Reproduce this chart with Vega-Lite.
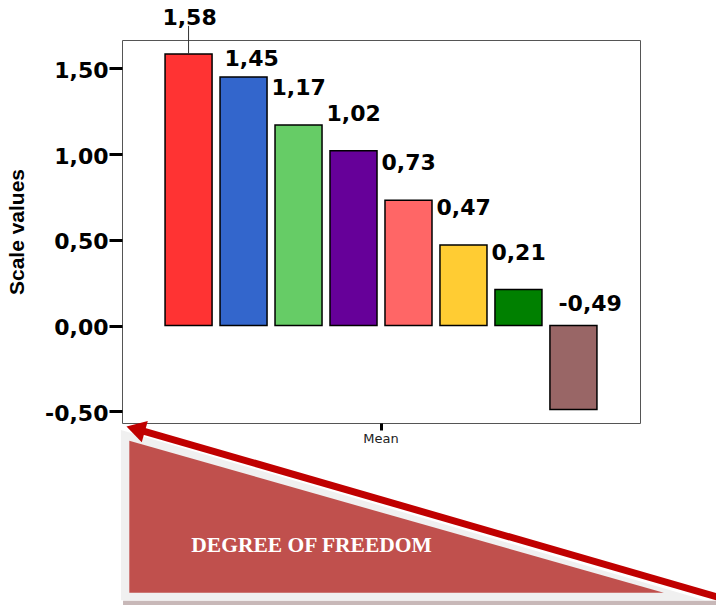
{
  "$schema": "https://vega.github.io/schema/vega-lite/v6.json",
  "width": 518,
  "height": 383,
  "autosize": {"type": "none"},
  "padding": {"left": 122, "top": 40, "right": 76, "bottom": 182},
  "background": "white",
  "config": {
    "view": {"stroke": "#555555", "strokeWidth": 1},
    "locale": {"number": {"decimal": ",", "thousands": ".", "grouping": [3], "currency": ["", ""], "minus": "-"}}
  },
  "datasets": {
    "bars": [
      {"stat": "Mean", "item": 1, "value": 1.584},
      {"stat": "Mean", "item": 2, "value": 1.45},
      {"stat": "Mean", "item": 3, "value": 1.17},
      {"stat": "Mean", "item": 4, "value": 1.02},
      {"stat": "Mean", "item": 5, "value": 0.73},
      {"stat": "Mean", "item": 6, "value": 0.47},
      {"stat": "Mean", "item": 7, "value": 0.21},
      {"stat": "Mean", "item": 8, "value": -0.49}
    ],
    "outer": [
      {"px": -0.002, "top": -0.609, "base": -1.601},
      {"px": 1.125, "top": -1.601, "base": -1.601}
    ],
    "inner": [
      {"px": 0.0141, "top": -0.672, "base": -1.558},
      {"px": 1.046, "top": -1.558, "base": -1.558}
    ],
    "one": [{"label": "DEGREE OF FREEDOM"}]
  },
  "resolve": {"scale": {"x": "independent"}, "axis": {"x": "independent"}},
  "layer": [
    {
      "data": {"name": "bars"},
      "encoding": {
        "x": {"field": "stat", "type": "nominal", "scale": {"paddingInner": 0, "paddingOuter": 0},
              "axis": {"title": null, "labelFont": "DejaVu Sans", "labelFontSize": 13, "labelColor": "#222222", "labelAngle": 0,
                       "tickSize": 7, "tickWidth": 3, "tickColor": "black", "domain": false, "labelPadding": 2}},
        "xOffset": {"field": "item", "type": "nominal", "scale": {"paddingInner": 0.145, "paddingOuter": 0.783}}
      },
      "layer": [
        {
          "mark": {"type": "bar", "stroke": "black", "strokeWidth": 1.5},
          "encoding": {
            "y": {"field": "value", "type": "quantitative",
                  "scale": {"domain": [-0.568, 1.665], "nice": false, "zero": false},
                  "axis": {"title": "Scale values", "values": [-0.5, 0, 0.5, 1, 1.5], "format": ".2f",
                           "labelFont": "DejaVu Sans", "labelFontWeight": "bold", "labelFontSize": 22, "labelColor": "black",
                           "tickSize": 13, "tickWidth": 3, "tickColor": "black", "domain": false, "grid": false,
                           "labelPadding": 1, "labelOffset": 2,
                           "titleFont": "Liberation Sans", "titleFontWeight": "bold", "titleFontSize": 21,
                           "titleColor": "black", "titlePadding": 17}},
            "y2": {"datum": 0},
            "color": {"field": "item", "type": "nominal", "legend": null,
                      "scale": {"range": ["#FF3333", "#3366CC", "#66CC66", "#660099", "#FF6666", "#FFCC33", "#008000", "#996666"]}}
          }
        },
        {
          "mark": {"type": "rule", "color": "#333333", "strokeWidth": 1, "y2Offset": -28},
          "transform": [{"filter": "datum.item == 1"}],
          "encoding": {
            "y": {"field": "value", "type": "quantitative"},
            "y2": {"field": "value"}
          }
        },
        {
          "mark": {"type": "text", "font": "DejaVu Sans", "fontWeight": "bold", "fontSize": 22, "color": "black",
                   "align": "center", "baseline": "alphabetic", "dx": 1, "dy": -29},
          "transform": [{"filter": "datum.item == 1"}],
          "encoding": {
            "y": {"field": "value", "type": "quantitative"},
            "text": {"field": "value", "type": "quantitative", "format": ".2f"}
          }
        },
        {
          "mark": {"type": "text", "font": "DejaVu Sans", "fontWeight": "bold", "fontSize": 22, "color": "black",
                   "align": "left", "baseline": "alphabetic", "dx": -19, "dy": -11},
          "transform": [{"filter": "datum.item == 2"}],
          "encoding": {
            "y": {"field": "value", "type": "quantitative"},
            "text": {"field": "value", "type": "quantitative", "format": ".2f"}
          }
        },
        {
          "mark": {"type": "text", "font": "DejaVu Sans", "fontWeight": "bold", "fontSize": 22, "color": "black",
                   "align": "left", "baseline": "alphabetic", "dx": -27, "dy": -30},
          "transform": [{"filter": "datum.item >= 3 && datum.item <= 7"}],
          "encoding": {
            "y": {"field": "value", "type": "quantitative"},
            "text": {"field": "value", "type": "quantitative", "format": ".2f"}
          }
        },
        {
          "mark": {"type": "text", "font": "DejaVu Sans", "fontWeight": "bold", "fontSize": 22, "color": "black",
                   "align": "left", "baseline": "alphabetic", "dx": -15, "dy": -15},
          "transform": [{"filter": "datum.item == 8"}],
          "encoding": {
            "y": {"datum": 0, "type": "quantitative"},
            "text": {"field": "value", "type": "quantitative", "format": ".2f"}
          }
        }
      ]
    },
    {
      "layer": [
        {
          "data": {"name": "outer"},
          "mark": {"type": "area", "color": "#F0F0F0", "orient": "vertical"},
          "encoding": {
            "x": {"field": "px", "type": "quantitative", "scale": {"domain": [0, 1], "nice": false, "zero": false}, "axis": null},
            "y": {"field": "top", "type": "quantitative"},
            "y2": {"field": "base"}
          }
        },
        {
          "data": {"name": "inner"},
          "mark": {"type": "area", "color": "#C0504D", "orient": "vertical"},
          "encoding": {
            "x": {"field": "px", "type": "quantitative", "scale": {"domain": [0, 1], "nice": false, "zero": false}, "axis": null},
            "y": {"field": "top", "type": "quantitative"},
            "y2": {"field": "base"}
          }
        },
        {
          "data": {"name": "one"},
          "mark": {"type": "rect", "color": "#C8B8B8"},
          "encoding": {
            "x": {"datum": 0.002, "type": "quantitative", "scale": {"domain": [0, 1], "nice": false, "zero": false}, "axis": null},
            "x2": {"datum": 1.2},
            "y": {"datum": -1.605, "type": "quantitative"},
            "y2": {"datum": -1.64}
          }
        },
        {
          "data": {"name": "one"},
          "mark": {"type": "rule", "color": "#C00000", "strokeWidth": 7},
          "encoding": {
            "x": {"datum": 0.0347, "type": "quantitative", "scale": {"domain": [0, 1], "nice": false, "zero": false}, "axis": null},
            "x2": {"datum": 1.174},
            "y": {"datum": -0.609, "type": "quantitative"},
            "y2": {"datum": -1.604}
          }
        },
        {
          "data": {"name": "one"},
          "mark": {"type": "point", "shape": "triangle-left", "size": 484, "angle": 16, "filled": true, "color": "#C00000", "opacity": 1, "strokeWidth": 0},
          "encoding": {
            "x": {"datum": 0.0263, "type": "quantitative", "scale": {"domain": [0, 1], "nice": false, "zero": false}, "axis": null},
            "y": {"datum": -0.603, "type": "quantitative"}
          }
        },
        {
          "data": {"name": "one"},
          "mark": {"type": "text", "font": "Liberation Serif", "fontWeight": "bold", "fontSize": 21.5, "color": "white",
                   "align": "center", "baseline": "alphabetic"},
          "encoding": {
            "x": {"datum": 0.366, "type": "quantitative", "scale": {"domain": [0, 1], "nice": false, "zero": false}, "axis": null},
            "y": {"datum": -1.319, "type": "quantitative"},
            "text": {"field": "label"}
          }
        }
      ]
    }
  ]
}
